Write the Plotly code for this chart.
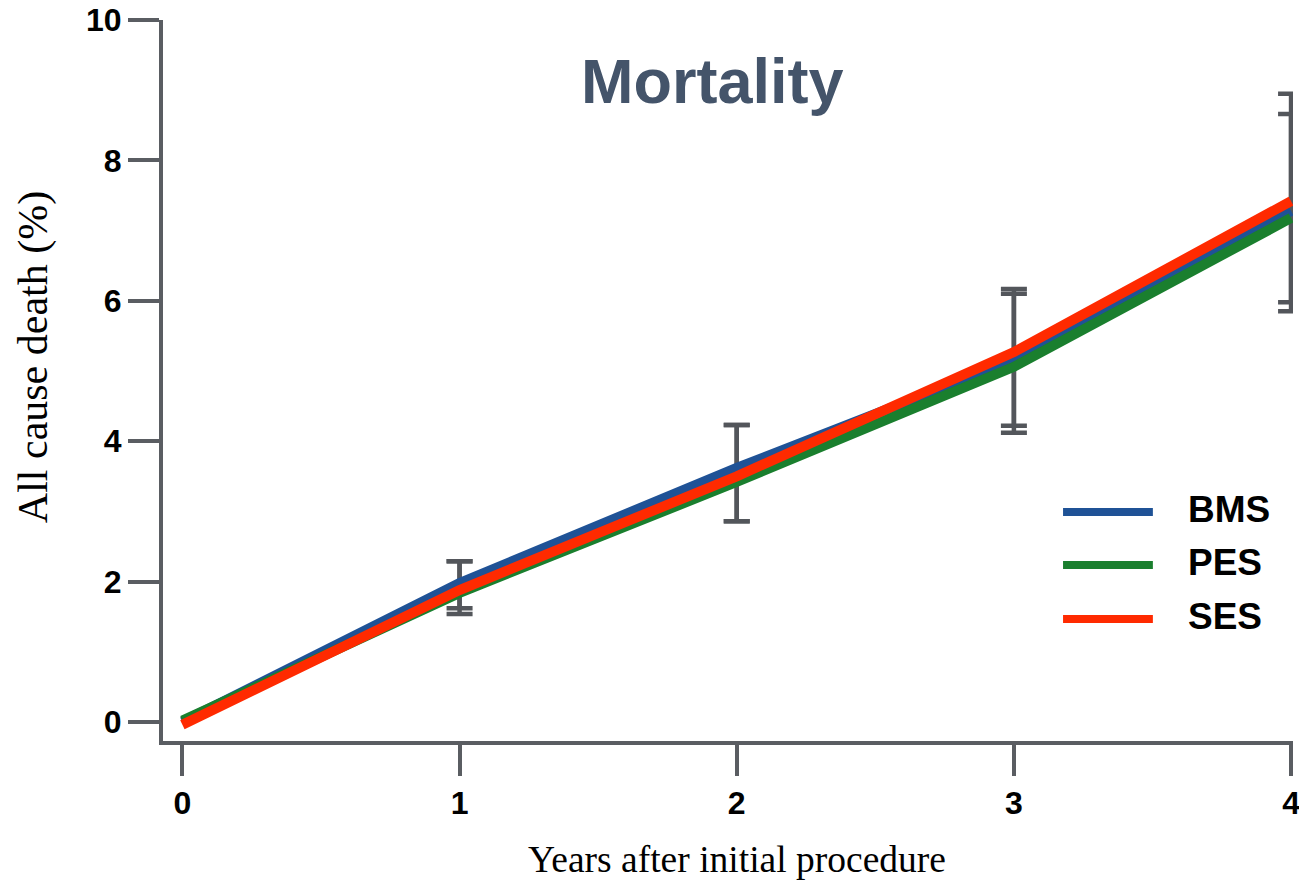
import plotly.graph_objects as go

# Follow-up years
years = [0, 1, 2, 3, 4]

# Cumulative all-cause death (%) per stent type
bms = [0.00, 1.98, 3.62, 5.16, 7.28]
pes = [0.02, 1.84, 3.42, 5.06, 7.18]
ses = [-0.04, 1.88, 3.50, 5.27, 7.42]

# Confidence limits drawn as error bars (two overlapping sets)
ci_years = [1, 2, 3, 4]
ci_a_low = [1.62, 2.86, 4.22, 5.98]
ci_a_high = [2.29, 4.23, 6.17, 8.95]
ci_b_low = [1.54, 2.86, 4.12, 5.85]
ci_b_high = [2.29, 4.23, 6.10, 8.66]

series_names = ["BMS", "PES", "SES"]
series_colors = ["#1f5296", "#1a7f2e", "#ff2a00"]

AXIS_GREY = "#5a5d62"
BAR_GREY = "#53565b"
SANS = "Liberation Sans, Arial, sans-serif"
SERIF = "Liberation Serif, Times New Roman, serif"

fig = go.Figure()

# Error bars first so the curves sit on top of them
for lo, hi in [(ci_a_low, ci_a_high), (ci_b_low, ci_b_high)]:
    mid = [(a + b) / 2 for a, b in zip(lo, hi)]
    fig.add_trace(go.Scatter(
        x=ci_years, y=mid, mode="markers",
        marker=dict(size=1, opacity=0),
        error_y=dict(type="data", symmetric=False,
                     array=[h - m for h, m in zip(hi, mid)],
                     arrayminus=[m - l for m, l in zip(mid, lo)],
                     color=BAR_GREY, thickness=4.5, width=13),
        showlegend=False, hoverinfo="skip", cliponaxis=False,
    ))

for name, vals, col in zip(series_names, [bms, pes, ses], series_colors):
    fig.add_trace(go.Scatter(
        x=years, y=vals, mode="lines", name=name,
        line=dict(color=col, width=10),
        showlegend=False, cliponaxis=False,
    ))

# Hand-built legend: long line samples with bold labels
legend_y = [0.3176, 0.2441, 0.1692]
shapes = []
annotations = []
for name, col, ly in zip(series_names, series_colors, legend_y):
    shapes.append(dict(type="line", xref="paper", yref="paper",
                       x0=0.7965, x1=0.876, y0=ly, y1=ly,
                       line=dict(color=col, width=8)))
    annotations.append(dict(text=name, xref="paper", yref="paper",
                            x=0.905, y=ly + 0.004, xanchor="left",
                            yanchor="middle", showarrow=False,
                            font=dict(family=SANS, size=37, color="black",
                                      weight="bold")))

annotations += [
    dict(text="Mortality", xref="paper", yref="paper", x=0.486, y=0.915,
         xanchor="center", yanchor="middle", showarrow=False,
         font=dict(family=SANS, size=63, color="#44546a", weight="bold")),
    dict(text="Years after initial procedure", xref="paper", yref="paper",
         x=0.508, y=-0.165, xanchor="center", yanchor="middle",
         showarrow=False, font=dict(family=SERIF, size=37.5, color="black")),
    dict(text="All cause death (%)", xref="paper", yref="paper",
         x=-0.114, y=0.5326, xanchor="center", yanchor="middle",
         textangle=-90, showarrow=False,
         font=dict(family=SERIF, size=42, color="black")),
]

tick_font = dict(family=SANS, size=32, color="black", weight="bold")

fig.update_layout(
    width=1299, height=882,
    margin=dict(l=163, r=6, t=20, b=141),
    paper_bgcolor="white", plot_bgcolor="white",
    shapes=shapes, annotations=annotations,
    xaxis=dict(range=[-0.07, 4.007], tickvals=[0, 1, 2, 3, 4],
               showgrid=False, zeroline=False, automargin=False,
               showline=True, linecolor=AXIS_GREY, linewidth=4,
               ticks="outside", ticklen=31, tickwidth=4, tickcolor=AXIS_GREY,
               tickfont=tick_font, ticklabeloverflow="allow"),
    yaxis=dict(range=[-0.27, 10], tickvals=[0, 2, 4, 6, 8, 10],
               showgrid=False, zeroline=False, automargin=False,
               showline=True, linecolor=AXIS_GREY, linewidth=4,
               ticks="outside", ticklen=31, tickwidth=4, tickcolor=AXIS_GREY,
               tickfont=tick_font, ticklabeloverflow="allow"),
)

fig.write_html("out.html")
